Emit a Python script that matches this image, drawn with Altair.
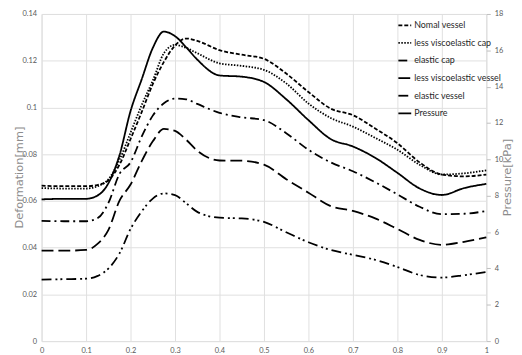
import altair as alt
import pandas as pd

# x positions (time fraction)
x_vals = [0, 0.05, 0.1, 0.125, 0.15, 0.175, 0.2, 0.225, 0.25, 0.275, 0.3, 0.325, 0.35,
          0.4, 0.45, 0.5, 0.55, 0.6, 0.65, 0.7, 0.75, 0.8, 0.85, 0.9, 0.95, 1.0]

# deformation [mm]
nomal_vessel = [0.0665, 0.0663, 0.0663, 0.0668, 0.0688, 0.0755, 0.0865, 0.098, 0.110, 0.1195,
                0.1265, 0.1295, 0.1285, 0.1245, 0.1226, 0.1208, 0.1145, 0.1066, 0.0995, 0.0967,
                0.0910, 0.0847, 0.0765, 0.0713, 0.0705, 0.0713]
less_visco_cap = [0.0655, 0.0653, 0.0653, 0.0662, 0.0692, 0.0775, 0.0892, 0.101, 0.1115, 0.1232,
                  0.1268, 0.1255, 0.1232, 0.1189, 0.1178, 0.1161, 0.1103, 0.1017, 0.0955, 0.0918,
                  0.0870, 0.0819, 0.0755, 0.0713, 0.0718, 0.0731]
elastic_cap = [0.0515, 0.0513, 0.0513, 0.0525, 0.059, 0.0715, 0.0765, 0.0875, 0.0965, 0.1018,
               0.1038, 0.1035, 0.1015, 0.0977, 0.0958, 0.0946, 0.089, 0.0819, 0.0765, 0.0727,
               0.0680, 0.0628, 0.0575, 0.0543, 0.0545, 0.0557]
less_visco_vessel = [0.0387, 0.0387, 0.039, 0.0415, 0.0475, 0.060, 0.067, 0.077, 0.0855, 0.0908,
                     0.0900, 0.0862, 0.0815, 0.0773, 0.0772, 0.0755, 0.0693, 0.0635, 0.0578, 0.0557,
                     0.0525, 0.048, 0.0433, 0.0412, 0.0425, 0.0444]
elastic_vessel = [0.0263, 0.0265, 0.0267, 0.0278, 0.031, 0.0375, 0.048, 0.0555, 0.061, 0.0632,
                  0.0625, 0.059, 0.0553, 0.0528, 0.0525, 0.051, 0.0466, 0.0423, 0.039, 0.0369,
                  0.0348, 0.0317, 0.0283, 0.0272, 0.0282, 0.0296]

# pressure [kPa]
pressure = [7.80, 7.83, 7.83, 8.00, 8.68, 10.22, 12.66, 14.40, 16.13, 17.03, 16.78, 16.17, 15.49,
            14.62, 14.55, 14.26, 13.31, 12.16, 11.12, 10.71, 10.09, 9.26, 8.40, 8.04, 8.42, 8.65]

series_names = ["Nomal vessel", "less viscoelastic cap", "elastic cap",
                "less viscoelastic vessel", "elastic vessel", "Pressure"]
dash_styles = [[4, 2], [1.5, 1.5], [9, 4, 2, 4], [12, 5], [10, 4, 2, 3, 2, 4], [1, 0]]

deform_series = [nomal_vessel, less_visco_cap, elastic_cap, less_visco_vessel, elastic_vessel]
rows = []
for name, vals in zip(series_names[:5], deform_series):
    for xv, yv in zip(x_vals, vals):
        rows.append({"x": xv, "y": yv, "series": name})
df_def = pd.DataFrame(rows)
df_p = pd.DataFrame({"x": x_vals, "p": pressure, "series": "Pressure"})

FONT = "Lato, Liberation Sans, sans-serif"
LABEL_COLOR = "#595959"
GRID = "#e0e0e0"

dash_scale = alt.Scale(domain=series_names, range=dash_styles)
legend = alt.Legend(
    title=None, orient="none", legendX=360, legendY=4,
    symbolType="stroke", symbolSize=169, symbolStrokeWidth=1.8,
    symbolStrokeColor="black", labelFont=FONT, labelFontSize=9,
    labelColor="#262626", rowPadding=4.8, labelOffset=2, labelLimit=200,
)

x_enc = alt.X("x:Q", scale=alt.Scale(domain=[0, 1], nice=False),
              axis=alt.Axis(values=[i / 10 for i in range(11)], format="~g", title=None,
                            grid=True, gridColor=GRID, domain=False, ticks=False,
                            labelFont=FONT, labelFontSize=7.5, labelColor=LABEL_COLOR,
                            labelPadding=6, labelFlush=False))

base_line = dict(interpolate="monotone", strokeWidth=1.8, color="black")

deform = alt.Chart(df_def).mark_line(**base_line).encode(
    x=x_enc,
    y=alt.Y("y:Q", scale=alt.Scale(domain=[0, 0.14], nice=False),
            axis=alt.Axis(values=[0, 0.02, 0.04, 0.06, 0.08, 0.1, 0.12, 0.14], format="~g",
                          title="Deformation[mm]", titleFont="DejaVu Sans", titleFontSize=11.5,
                          titleFontWeight="normal", titleColor="#8c8c8c",
                          titleX=-22, titleY=165, titleAngle=270, titleBaseline="middle",
                          grid=True, gridColor=GRID, domain=False, ticks=False,
                          labelFont=FONT, labelFontSize=7.5, labelColor=LABEL_COLOR,
                          labelPadding=5)),
    strokeDash=alt.StrokeDash("series:N", scale=dash_scale, legend=legend),
    detail="series:N",
)

press = alt.Chart(df_p).mark_line(**base_line).encode(
    x=x_enc,
    y=alt.Y("p:Q", scale=alt.Scale(domain=[0, 18], nice=False),
            axis=alt.Axis(orient="right", values=list(range(0, 19, 2)),
                          title="Pressure[kPa]", titleFont="DejaVu Sans", titleFontSize=11.5,
                          titleFontWeight="normal", titleColor="#8c8c8c",
                          titleX=21, titleY=165, titleAngle=270, titleBaseline="middle",
                          grid=False, domain=False, ticks=True, tickSize=4, tickColor="#bfbfbf",
                          labelFont=FONT, labelFontSize=7.5, labelColor=LABEL_COLOR,
                          labelPadding=4)),
    strokeDash=alt.StrokeDash("series:N", scale=dash_scale, legend=legend),
)

chart = alt.layer(deform, press).resolve_scale(y="independent").properties(
    width=450, height=331,
    autosize=alt.AutoSizeParams(type="none"),
    padding={"left": 34, "top": 4, "right": 28, "bottom": 12},
).configure_view(stroke=None).configure(background="white")

chart.save("out.html", embed_options={"renderer": "svg", "actions": False})
